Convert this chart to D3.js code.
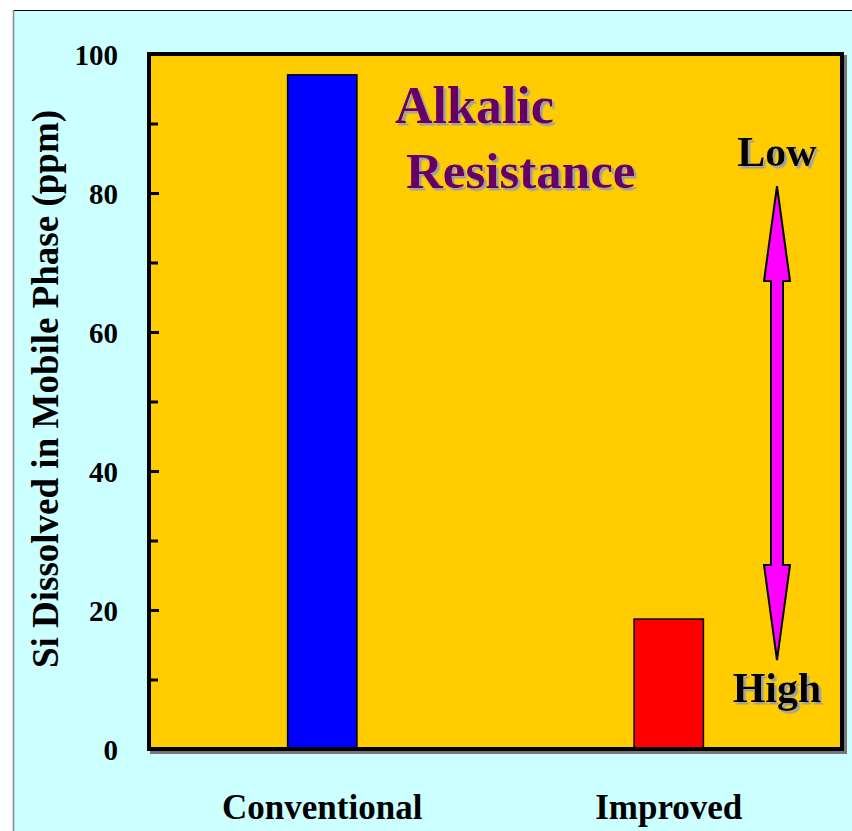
<!DOCTYPE html>
<html>
<head>
<meta charset="utf-8">
<script src="https://cdn.jsdelivr.net/npm/d3@7/dist/d3.min.js"></script>
<style>
  html, body { margin: 0; padding: 0; background: #ffffff; }
  svg { display: block; }
</style>
</head>
<body>
<svg id="chart" width="852" height="831"></svg>
<script>
// Silica dissolved into the mobile phase, conventional vs improved packing
const categories = ["Conventional", "Improved"];
const siValues = [97, 18.7];
const barColors = ["#0000FF", "#FF0000"];
const majorTicks = [0, 20, 40, 60, 80, 100];
const minorTicks = [10, 30, 50, 70, 90];
const yTitle = "Si Dissolved in Mobile Phase (ppm)";
const noteLines = ["Alkalic", "Resistance"];
const scaleEnds = ["Low", "High"];

const SERIF = "'Liberation Serif', 'DejaVu Serif', 'Times New Roman', Times, serif";

const svg = d3.select("#chart");
const W = 852, H = 831;

// grey drop shadow for the annotation text
const defs = svg.append("defs");
defs.append("filter").attr("id", "txtShadow")
  .attr("x", "-10%").attr("y", "-10%").attr("width", "130%").attr("height", "130%")
  .append("feDropShadow")
  .attr("dx", 2.5).attr("dy", 2.5).attr("stdDeviation", 0.3)
  .attr("flood-color", "#a0a0a0").attr("flood-opacity", 1);

// page panel
svg.append("rect").attr("x", 13.5).attr("y", 10.5).attr("width", W).attr("height", H)
  .attr("fill", "#CCFFFF").attr("stroke", "#000").attr("stroke-width", 1);
svg.append("line").attr("x1", 13.5).attr("x2", 13.5).attr("y1", 10).attr("y2", H)
  .attr("stroke", "#888").attr("stroke-width", 1.5);

const margin = { left: 149, top: 54, right: 842, bottom: 749 };
const pw = margin.right - margin.left, ph = margin.bottom - margin.top;

const g = svg.append("g").attr("transform", `translate(${margin.left},${margin.top})`);

const x = d3.scaleBand().domain(categories).range([0, pw]).paddingInner(0.8).paddingOuter(0.4);
const y = d3.scaleLinear().domain([0, 100]).range([ph, 0]);

// plot area with slight drop shadow
g.append("rect").attr("x", 3).attr("y", 3).attr("width", pw).attr("height", ph)
  .attr("fill", "none").attr("stroke", "#777").attr("stroke-width", 4);
g.append("rect").attr("width", pw).attr("height", ph).attr("fill", "#FFCC00");

// bars
g.selectAll("rect.bar").data(categories).join("rect").attr("class", "bar")
  .attr("x", d => x(d))
  .attr("width", x.bandwidth())
  .attr("y", (d, i) => y(siValues[i]))
  .attr("height", (d, i) => ph - y(siValues[i]))
  .attr("fill", (d, i) => barColors[i])
  .attr("stroke", "#000").attr("stroke-width", 1.5);

// frame
g.append("rect").attr("width", pw).attr("height", ph)
  .attr("fill", "none").attr("stroke", "#000").attr("stroke-width", 4);

// y axis: inward ticks, major with labels, minor without
const yAxis = g.append("g")
  .call(d3.axisLeft(y).tickValues(majorTicks).tickSizeInner(-10).tickSizeOuter(0).tickPadding(31));
yAxis.attr("font-family", SERIF).attr("font-size", 29).attr("font-weight", "bold");
yAxis.select(".domain").remove();
yAxis.selectAll(".tick line").attr("stroke", "#000").attr("stroke-width", 3);
yAxis.selectAll(".tick text").attr("fill", "#000").attr("dy", "0.36em");

const yMinor = g.append("g")
  .call(d3.axisLeft(y).tickValues(minorTicks).tickSizeInner(-9).tickSizeOuter(0).tickFormat(""));
yMinor.select(".domain").remove();
yMinor.selectAll(".tick line").attr("stroke", "#000").attr("stroke-width", 3);

// x category labels
g.selectAll("text.cat").data(categories).join("text").attr("class", "cat")
  .attr("x", d => x(d) + x.bandwidth() / 2)
  .attr("y", ph + 70)
  .attr("text-anchor", "middle")
  .attr("font-family", SERIF).attr("font-weight", "bold").attr("font-size", 35)
  .attr("fill", "#000")
  .text(d => d);

// y title
svg.append("text")
  .attr("transform", "translate(58,389) rotate(-90)")
  .attr("text-anchor", "middle")
  .attr("font-family", SERIF).attr("font-weight", "bold").attr("font-size", 37)
  .attr("fill", "#000")
  .text(yTitle);

function shadowText(parent, tx, ty, str, size, color, anchor) {
  parent.append("text").attr("x", tx).attr("y", ty).attr("text-anchor", anchor)
    .attr("font-family", SERIF).attr("font-weight", "bold").attr("font-size", size)
    .attr("fill", color).attr("filter", "url(#txtShadow)").text(str);
}

shadowText(g, 395 - margin.left, 123 - margin.top, noteLines[0], 52, "#660066", "start");
shadowText(g, 406 - margin.left, 188 - margin.top, noteLines[1], 51, "#660066", "start");

// double-headed arrow between Low and High
const ax = 777 - margin.left;
const topTip = y(81), botTip = y(12.8);
const headLen = 95, headHalf = 13, shaftHalf = 6;
const arrowPts = [
  [ax, topTip],
  [ax + headHalf, topTip + headLen],
  [ax + shaftHalf, topTip + headLen],
  [ax + shaftHalf, botTip - headLen],
  [ax + headHalf, botTip - headLen],
  [ax, botTip],
  [ax - headHalf, botTip - headLen],
  [ax - shaftHalf, botTip - headLen],
  [ax - shaftHalf, topTip + headLen],
  [ax - headHalf, topTip + headLen]
];
g.append("path")
  .attr("d", d3.line()(arrowPts) + "Z")
  .attr("fill", "#FF00FF").attr("stroke", "#000").attr("stroke-width", 2)
  .attr("stroke-linejoin", "miter");

shadowText(g, ax, 166 - margin.top, scaleEnds[0], 42, "#000", "middle");
shadowText(g, ax, 702 - margin.top, scaleEnds[1], 42, "#000", "middle");
</script>
</body>
</html>
